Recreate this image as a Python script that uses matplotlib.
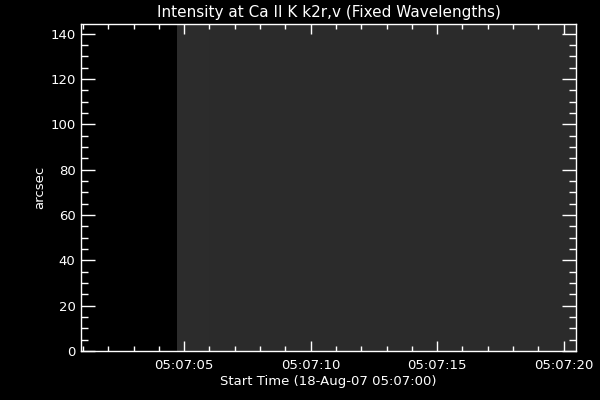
import matplotlib
matplotlib.use('Agg')
import matplotlib.pyplot as plt
from matplotlib.ticker import MultipleLocator, FixedLocator
import numpy as np

# seconds after 05:07:00, edges of the exposure columns
col_edges = [4.7, 6.0, 7.5, 9.0, 10.5, 12.0, 13.5, 15.0, 16.5, 18.0, 19.5, 20.6]
col_intensity = [0.172, 0.170, 0.171, 0.169, 0.170, 0.171, 0.170, 0.169, 0.170, 0.171, 0.170]
y_edges = [0, 145]

major_secs = [5, 10, 15, 20]
major_labels = ['05:07:05', '05:07:10', '05:07:15', '05:07:20']
y_ticks = [0, 20, 40, 60, 80, 100, 120, 140]

fig = plt.figure(figsize=(6, 4), dpi=100, facecolor='black')
ax = fig.add_axes([0.135, 0.1225, 0.825, 0.8175], facecolor='black')

img = np.array([col_intensity])
ax.pcolormesh(col_edges, y_edges, img, cmap='gray', vmin=0, vmax=1, shading='flat')

ax.set_xlim(0.92, 20.49)
ax.set_ylim(0, 144.3)

ax.xaxis.set_major_locator(FixedLocator(major_secs))
ax.set_xticklabels(major_labels)
ax.xaxis.set_minor_locator(MultipleLocator(1))
ax.yaxis.set_major_locator(FixedLocator(y_ticks))
ax.yaxis.set_minor_locator(MultipleLocator(5))

for sp in ax.spines.values():
    sp.set_color('white')
    sp.set_linewidth(1.0)

ax.tick_params(axis='both', which='both', direction='in', colors='white',
               top=True, right=True, width=1.0, labelsize=9.5)
ax.tick_params(axis='x', which='major', length=7.5, pad=6)
ax.tick_params(axis='x', which='minor', length=3.7)
ax.tick_params(axis='y', which='major', length=10, pad=4)
ax.tick_params(axis='y', which='minor', length=5)

ax.set_title('Intensity at Ca II K k2r,v (Fixed Wavelengths)', color='white',
             fontsize=11, pad=5)
ax.set_xlabel('Start Time (18-Aug-07 05:07:00)', color='white', fontsize=9.5, labelpad=2)
ax.set_ylabel('arcsec', color='white', fontsize=9.5, labelpad=3)

fig.savefig('out.png', dpi=100, facecolor='black')
